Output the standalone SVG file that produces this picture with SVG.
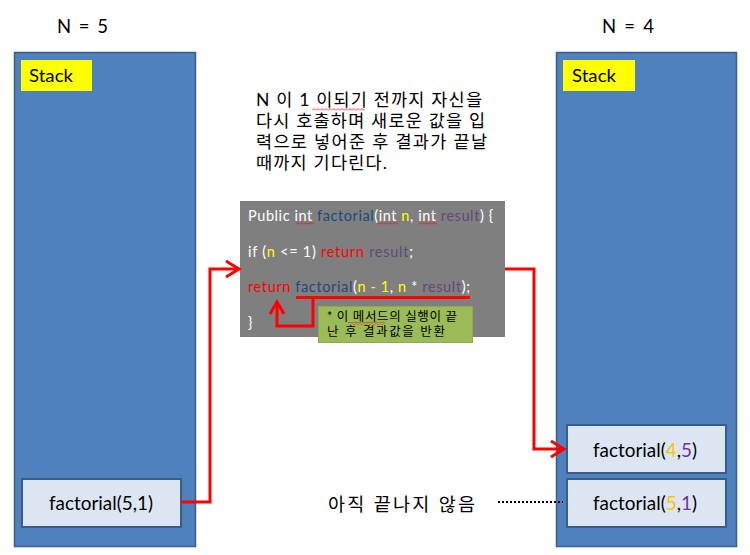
<svg xmlns="http://www.w3.org/2000/svg" width="750" height="555" viewBox="0 0 750 555">
<style>
text{font-family:"Lato","Liberation Sans","Noto Sans CJK KR",sans-serif;}
.stack{fill:#4F81BD;stroke:#385D8A;stroke-width:1.5;}
.label{fill:#FFFF00;}
.frame{fill:#DCE6F2;stroke:#385D8A;stroke-width:2;}
.fn{font-size:19px;fill:#000;}
.title{font-size:18.5px;fill:#000;}
.kr{font-size:17.5px;fill:#000;}
.code{font-size:14.5px;fill:#FFFFFF;}
.note{font-size:12.5px;fill:#000;}
.wire{fill:none;stroke:#FF0000;stroke-width:3;stroke-linejoin:miter;}
.head{fill:none;stroke:#FF0000;stroke-width:3;stroke-linecap:butt;}
.sq{fill:url(#sq);}
</style>
<defs>
<pattern id="sq" width="4" height="3" patternUnits="userSpaceOnUse">
<path d="M0,2.5 L2,0.5 L4,2.5" fill="none" stroke="#FF0000" stroke-width="0.8"/>
</pattern>
</defs>
<rect width="750" height="555" fill="#FFFFFF"/>

<g id="left-stack">
<text class="title" x="57" y="33" textLength="51" lengthAdjust="spacing">N = 5</text>
<rect class="stack" x="14.5" y="52.5" width="181" height="494"/>
<rect class="label" x="21" y="60" width="71" height="31"/>
<text x="29" y="82" font-size="18" textLength="44" lengthAdjust="spacingAndGlyphs">Stack</text>
</g>

<g id="left-call">
<rect class="frame" x="22" y="479" width="159" height="48"/>
<text class="fn" x="101" y="510" text-anchor="middle" textLength="104" lengthAdjust="spacingAndGlyphs">factorial(5,1)</text>
</g>

<g id="right-stack">
<text class="title" x="602" y="33" textLength="52" lengthAdjust="spacing">N = 4</text>
<rect class="stack" x="556.5" y="52.5" width="180" height="494"/>
<rect class="label" x="563" y="60" width="72" height="31"/>
<text x="572" y="82" font-size="18" textLength="44" lengthAdjust="spacingAndGlyphs">Stack</text>
</g>

<g id="right-call-4-5">
<rect class="frame" x="567" y="425" width="159" height="48"/>
<text class="fn" x="645" y="457" text-anchor="middle" textLength="104" lengthAdjust="spacingAndGlyphs">factorial(<tspan fill="#FFC000">4</tspan>,<tspan fill="#7030A0">5</tspan>)</text>
</g>

<g id="right-call-5-1">
<rect class="frame" x="567" y="479" width="159" height="48"/>
<text class="fn" x="645" y="510" text-anchor="middle" textLength="104" lengthAdjust="spacingAndGlyphs">factorial(<tspan fill="#FFC000">5</tspan>,<tspan fill="#7030A0">1</tspan>)</text>
</g>

<g id="description">
<text class="kr" x="256" y="106" textLength="226" lengthAdjust="spacing">N 이 1 이되기 전까지 자신을</text>
<rect class="sq" x="312" y="108" width="53" height="3"/>
<text class="kr" x="256" y="127" textLength="229" lengthAdjust="spacing">다시 호출하며 새로운 값을 입</text>
<text class="kr" x="256" y="148" textLength="231" lengthAdjust="spacing">력으로 넣어준 후 결과가 끝날</text>
<text class="kr" x="256" y="169" textLength="131" lengthAdjust="spacing">때까지 기다린다.</text>
</g>

<g id="code">
<rect x="240" y="201" width="265" height="136" fill="#7F7F7F"/>
<text class="code" x="248" y="221" textLength="245" lengthAdjust="spacing">Public int <tspan fill="#1F497D">factorial</tspan>(int <tspan fill="#FFFF00">n</tspan>, int <tspan fill="#604A7B">result</tspan>) {</text>
<rect class="sq" x="296" y="222" width="18" height="3"/>
<rect class="sq" x="377" y="222" width="21" height="3"/>
<rect class="sq" x="419" y="222" width="18" height="3"/>
<text class="code" x="248" y="257" textLength="165" lengthAdjust="spacing">if (<tspan fill="#FFFF00">n</tspan> &lt;= 1) <tspan fill="#FF0000">return</tspan> <tspan fill="#604A7B">result</tspan>;</text>
<text class="code" x="248" y="292" textLength="222" lengthAdjust="spacing"><tspan fill="#FF0000">return</tspan> <tspan fill="#1F497D">factorial</tspan>(<tspan fill="#FFFF00">n - 1</tspan>, <tspan fill="#FFFF00">n</tspan> * <tspan fill="#604A7B">result</tspan>);</text>
<text class="code" x="248" y="328">}</text>
</g>

<g id="note">
<rect x="318.5" y="306.5" width="154" height="36" fill="#9BBB59" stroke="#8CAA4E" stroke-width="1"/>
<text class="note" x="327" y="321" textLength="130" lengthAdjust="spacing">* 이 메서드의 실행이 끝</text>
<rect class="sq" x="348" y="322" width="37" height="3"/>
<text class="note" x="327" y="336" textLength="118" lengthAdjust="spacing">난 후 결과값을 반환</text>
</g>

<g id="pending">
<text class="title" x="328" y="511" textLength="147" lengthAdjust="spacing">아직 끝나지 않음</text>
</g>

<g id="connectors">
<path class="wire" d="M181,502 H210 V269 H238"/>
<path class="head" d="M226,261 L239,269 L226,277"/>
<path class="wire" d="M505,269 H534 V449 H563"/>
<path class="head" d="M551,441 L564,449 L551,457"/>
<path class="wire" d="M296,297.5 H470"/>
<path class="wire" d="M313,297.5 V326 H277 V304"/>
<path class="head" d="M270,314 L277,302 L284,314"/>
<path d="M498,502 H563" fill="none" stroke="#000" stroke-width="2" stroke-dasharray="2 2"/>
</g>
</svg>
